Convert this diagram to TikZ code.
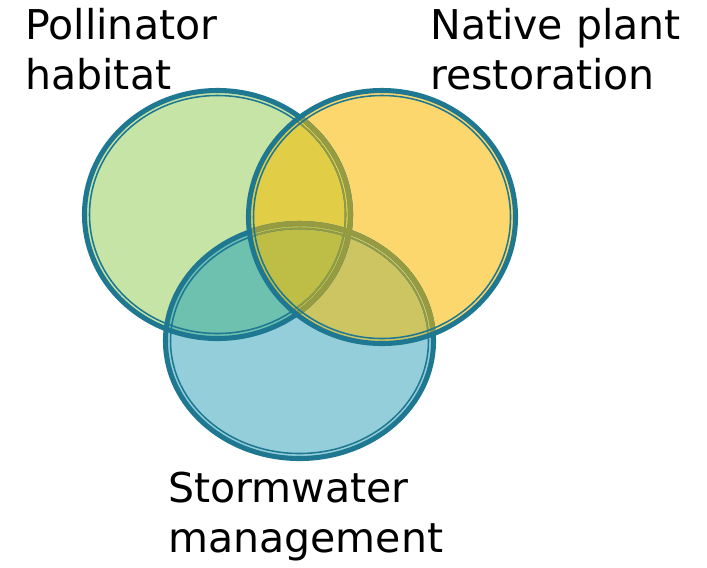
\documentclass[tikz,border=0pt]{standalone}
\usepackage{fontspec}
\setmainfont{DejaVu Sans}
\usepackage{xcolor}
\definecolor{pollgreen}{HTML}{C6E4A5}
\definecolor{nativeyellow}{HTML}{FCD76E}
\definecolor{stormblue}{HTML}{94CEDA}
\definecolor{greenyellow}{HTML}{E1CD46}
\definecolor{greenblue}{HTML}{6EC0AF}
\definecolor{yellowblue}{HTML}{CDC462}
\definecolor{allthree}{HTML}{BEBE46}
\definecolor{rimteal}{HTML}{1E7891}
\definecolor{rimolive}{HTML}{969B41}
% the three circles (centre x, centre y, x radius, y radius)
\def\pollpath{(217.5,214.5) ellipse [x radius=133, y radius=124]}
\def\pollinner{(217.5,214.5) ellipse [x radius=128, y radius=119]}
\def\nativepath{(382,217) ellipse [x radius=133.5, y radius=126.5]}
\def\nativeinner{(382,217) ellipse [x radius=128.5, y radius=121.5]}
\def\stormpath{(299.5,341) ellipse [x radius=134, y radius=117.5]}
\def\storminner{(299.5,341) ellipse [x radius=129, y radius=112.5]}
\tikzset{
  rim/.style={draw=#1, line width=3.6pt},
  innerrim/.style={draw=#1, line width=1.1pt},
  venntext/.style={
    anchor=north west,
    inner sep=0pt,
    align=left,
    font=\fontsize{29.2}{35.5}\selectfont
    },
}

\begin{document}
\begin{tikzpicture}[x=0.025cm, y=-0.025cm]
    \useasboundingbox (0,0) rectangle (707,567);

    % Draw the plain fills
    \fill[pollgreen] \pollpath;
    \fill[stormblue] \stormpath;
    \fill[nativeyellow] \nativepath;

    % Fill the overlaps
    \begin{scope}
        \clip \pollpath;
        \fill[greenyellow] \nativepath;
        \fill[greenblue] \stormpath;
    \end{scope}
    \begin{scope}
        \clip \nativepath;
        \fill[yellowblue] \stormpath;
    \end{scope}
    \begin{scope}
        \clip \pollpath;
        \clip \nativepath;
        \fill[allthree] \stormpath;
    \end{scope}

    % Rims of the lower circles
    \foreach \outer/\inner in {\pollpath/\pollinner, \stormpath/\storminner} {
        \path[rim=rimteal] \outer;
        \path[innerrim=rimteal] \inner;
    }
    % rims seen through the yellow circle
    \begin{scope}
        \clip \nativepath;
        \foreach \outer/\inner in {\pollpath/\pollinner, \stormpath/\storminner} {
            \path[rim=rimolive] \outer;
            \path[innerrim=rimolive] \inner;
        }
    \end{scope}
    \path[rim=rimteal] \nativepath;
    \path[innerrim=rimteal] \nativeinner;

    % Annotate the circles
    \node[venntext] (poll) at (25,8) {Pollinator\\habitat};
    \node[venntext] (native) at (430,8) {Native plant\\restoration};
    \node[venntext] (storm) at (168,472) {Stormwater\\management};
\end{tikzpicture}
\end{document}
